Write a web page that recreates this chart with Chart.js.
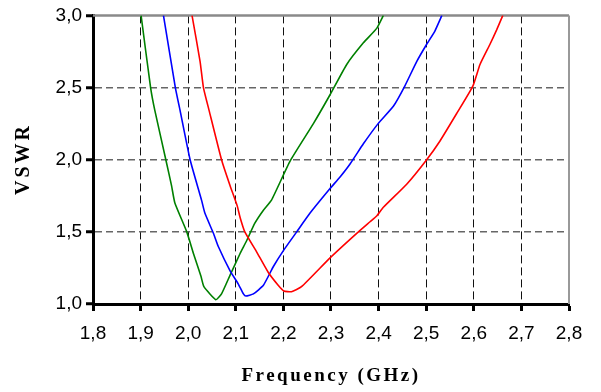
<!DOCTYPE html>
<html>
<head>
<meta charset="utf-8">
<script src="https://cdn.jsdelivr.net/npm/chart.js@4/dist/chart.umd.min.js"></script>
<style>
  html, body { margin: 0; padding: 0; background: #fff; }
  #wrap { width: 601px; height: 392px; }
</style>
</head>
<body>
<div id="wrap"><canvas id="vswrChart" width="601" height="392"></canvas></div>
<script>
const X_TITLE = "Frequency (GHz)";
const Y_TITLE = "VSWR";

const X_TICKS = [1.8, 1.9, 2.0, 2.1, 2.2, 2.3, 2.4, 2.5, 2.6, 2.7, 2.8];
const Y_TICKS = [1.0, 1.5, 2.0, 2.5, 3.0];

const GREEN_FREQ = [1.901, 1.921, 1.930, 1.953, 1.965, 1.972, 1.997, 2.011, 2.027, 2.033, 2.058, 2.070, 2.088, 2.109, 2.123, 2.140, 2.158, 2.175, 2.214, 2.263, 2.298, 2.333, 2.368, 2.396, 2.410];
const GREEN_VSWR = [3.0, 2.5, 2.34, 2.0, 1.82, 1.7, 1.5, 1.35, 1.19, 1.12, 1.03, 1.07, 1.2, 1.35, 1.44, 1.56, 1.65, 1.72, 1.99, 2.25, 2.45, 2.66, 2.81, 2.91, 3.0];

const BLUE_FREQ = [1.948, 1.973, 1.983, 2.004, 2.028, 2.035, 2.053, 2.063, 2.088, 2.105, 2.116, 2.121, 2.137, 2.158, 2.179, 2.200, 2.228, 2.256, 2.298, 2.319, 2.340, 2.368, 2.399, 2.431, 2.455, 2.480, 2.501, 2.518, 2.533];
const BLUE_VSWR = [3.0, 2.5, 2.34, 2.0, 1.72, 1.63, 1.49, 1.40, 1.23, 1.14, 1.07, 1.055, 1.07, 1.13, 1.26, 1.37, 1.5, 1.63, 1.80, 1.88, 1.97, 2.11, 2.25, 2.37, 2.51, 2.68, 2.80, 2.89, 3.0];

const RED_FREQ = [2.008, 2.025, 2.032, 2.044, 2.070, 2.088, 2.103, 2.109, 2.119, 2.144, 2.168, 2.189, 2.201, 2.217, 2.238, 2.298, 2.354, 2.382, 2.396, 2.410, 2.459, 2.501, 2.529, 2.564, 2.598, 2.613, 2.634, 2.648, 2.661];
const RED_VSWR = [3.0, 2.68, 2.5, 2.34, 2.0, 1.82, 1.68, 1.60, 1.50, 1.36, 1.22, 1.13, 1.09, 1.085, 1.12, 1.32, 1.49, 1.57, 1.61, 1.67, 1.83, 2.0, 2.13, 2.32, 2.51, 2.66, 2.80, 2.90, 3.0];

const toPoints = (xs, ys) => xs.map((x, i) => ({ x: x, y: ys[i] }));
const comma = (v) => v.toFixed(1).replace(".", ",");

const line = (label, color, xs, ys) => ({
  label: label,
  data: toPoints(xs, ys),
  borderColor: color,
  borderWidth: 1.6,
  pointRadius: 0,
  tension: 0.15,
  fill: false,
});

// frame on top/right + spaced axis titles
const framePlugin = {
  id: "frame",
  beforeDatasetsDraw(chart) {
    const { ctx, chartArea: a } = chart;
    ctx.save();
    ctx.strokeStyle = "#8a8a8a";
    ctx.lineWidth = 2.5;
    ctx.beginPath();
    ctx.moveTo(a.left, a.top);
    ctx.lineTo(a.right, a.top);
    ctx.stroke();
    ctx.lineWidth = 2;
    ctx.strokeStyle = "#999";
    ctx.beginPath();
    ctx.moveTo(a.right, a.top);
    ctx.lineTo(a.right, a.bottom);
    ctx.stroke();
    ctx.restore();
  },
  afterDraw(chart) {
    const { ctx } = chart;
    ctx.save();
    ctx.fillStyle = "#000";
    ctx.font = "bold 19px 'Liberation Serif', 'Times New Roman', serif";
    ctx.textAlign = "center";
    ctx.textBaseline = "middle";
    ctx.letterSpacing = "2.5px";
    ctx.fillText(X_TITLE, 331, 376);
    ctx.font = "bold 20px 'Liberation Serif', 'Times New Roman', serif";
    ctx.translate(24, 160);
    ctx.rotate(-Math.PI / 2);
    ctx.letterSpacing = "3px";
    ctx.fillText(Y_TITLE, 1, 0);
    ctx.restore();
  },
};

const config = {
  type: "line",
  data: {
    datasets: [
      line("red", "#ff0000", RED_FREQ, RED_VSWR),
      line("blue", "#0000ff", BLUE_FREQ, BLUE_VSWR),
      line("green", "#008000", GREEN_FREQ, GREEN_VSWR),
    ],
  },
  options: {
    responsive: false,
    animation: false,
    layout: { padding: { top: 14, right: 32, bottom: 0, left: 0 } },
    plugins: {
      legend: { display: false },
      tooltip: { enabled: false },
    },
    scales: {
      x: {
        type: "linear",
        min: 1.8,
        max: 2.8,
        afterFit: (s) => { s.height = 88; },
        afterBuildTicks: (s) => { s.ticks = X_TICKS.map((v) => ({ value: v })); },
        ticks: {
          callback: (v) => comma(v),
          color: "#000",
          padding: 11,
          font: { family: "'Liberation Sans', Arial, sans-serif", size: 19 },
        },
        grid: {
          color: (c) => (c.tick && (c.tick.value <= 1.8 || c.tick.value >= 2.8) ? "rgba(0,0,0,0)" : "#111"),
          lineWidth: 1,
          tickLength: 7,
          tickWidth: 3,
          tickColor: "#000",
          tickBorderDash: [],
        },
        border: { display: true, color: "#000", width: 3, dash: [8, 4] },
      },
      y: {
        type: "linear",
        min: 1,
        max: 3,
        afterFit: (s) => { s.width = 93; },
        afterBuildTicks: (s) => { s.ticks = Y_TICKS.map((v) => ({ value: v })); },
        ticks: {
          callback: (v) => comma(v),
          color: "#000",
          padding: 4,
          font: { family: "'Liberation Sans', Arial, sans-serif", size: 19 },
        },
        grid: {
          color: (c) => (c.tick && (c.tick.value <= 1 || c.tick.value >= 3) ? "rgba(0,0,0,0)" : "#666"),
          lineWidth: 1.5,
          tickLength: 7,
          tickWidth: 3,
          tickColor: "#000",
          tickBorderDash: [],
        },
        border: { display: true, color: "#000", width: 3, dash: [7, 4] },
      },
    },
  },
  plugins: [framePlugin],
};

const ctx = document.getElementById("vswrChart").getContext("2d");

new Chart(ctx, config);
</script>
</body>
</html>
